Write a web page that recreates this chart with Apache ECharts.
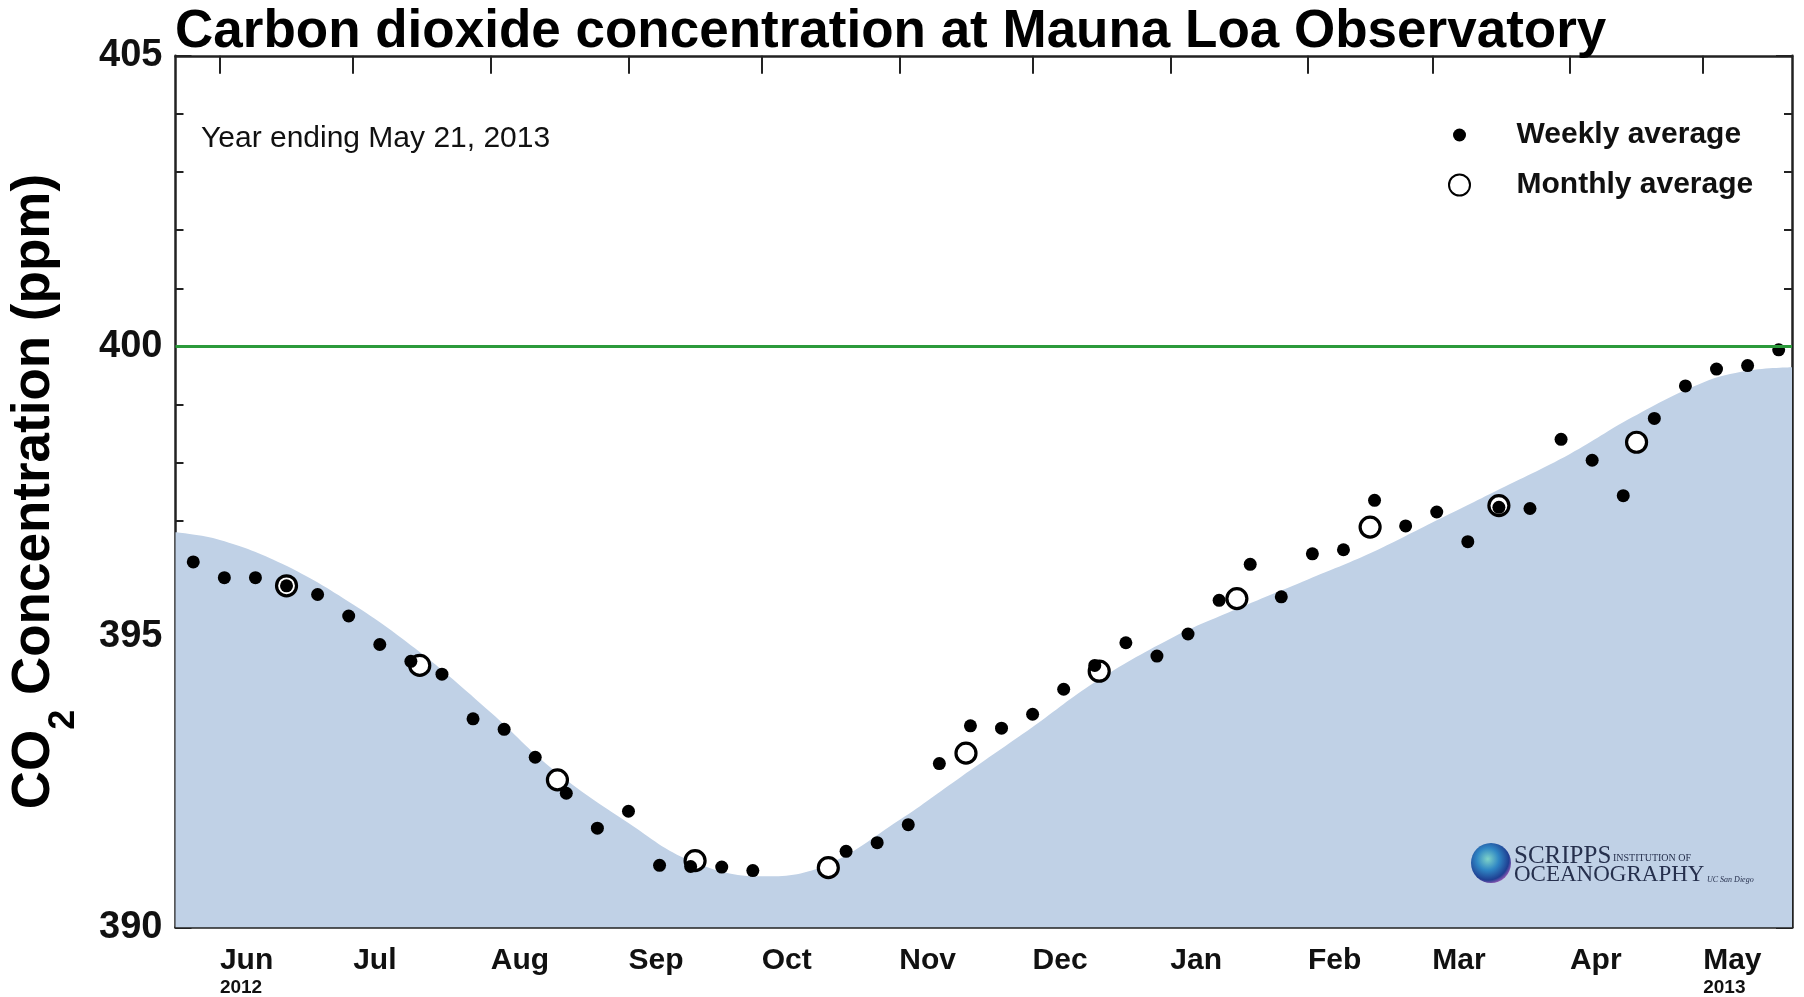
<!DOCTYPE html>
<html>
<head>
<meta charset="utf-8">
<script src="https://cdn.jsdelivr.net/npm/echarts@6/dist/echarts.min.js"></script>
<style>
html,body{margin:0;padding:0;background:#fff;}
#c{width:1804px;height:997px;}
</style>
</head>
<body>
<div id="c"></div>
<script>
// ---------- data ----------
const monthTicks = ['2012-06-01','2012-07-01','2012-08-01','2012-09-01','2012-10-01','2012-11-01',
                    '2012-12-01','2013-01-01','2013-02-01','2013-03-01','2013-04-01','2013-05-01'];
const monthLabels = ['Jun','Jul','Aug','Sep','Oct','Nov','Dec','Jan','Feb','Mar','Apr','May'];
const yearLabels  = ['2012','','','','','','','','','','','2013'];

const weeklyDates = ['2012-05-26','2012-06-02','2012-06-09','2012-06-16','2012-06-23','2012-06-30',
  '2012-07-07','2012-07-14','2012-07-21','2012-07-28','2012-08-04','2012-08-11','2012-08-18','2012-08-25',
  '2012-09-01','2012-09-08','2012-09-15','2012-09-22','2012-09-29','2012-10-20','2012-10-27',
  '2012-11-03','2012-11-10','2012-11-17','2012-11-24','2012-12-01','2012-12-08','2012-12-15','2012-12-22',
  '2012-12-29','2013-01-05','2013-01-12','2013-01-19','2013-01-26','2013-02-02','2013-02-09','2013-02-16',
  '2013-02-23','2013-03-02','2013-03-09','2013-03-16','2013-03-23','2013-03-30','2013-04-06','2013-04-13',
  '2013-04-20','2013-04-27','2013-05-04','2013-05-11','2013-05-18'];
const weeklyValues = [396.29,396.02,396.02,395.88,395.73,395.36,
  394.87,394.58,394.36,393.59,393.41,392.93,392.31,391.71,
  392.00,391.07,391.05,391.04,390.98,391.31,391.46,
  391.77,392.82,393.47,393.43,393.67,394.10,394.51,394.90,
  394.67,395.05,395.63,396.25,395.69,396.43,396.50,397.35,
  396.91,397.15,396.64,397.23,397.21,398.40,398.04,397.43,
  398.76,399.32,399.61,399.67,399.94];

const monthlyDates = ['2012-06-16','2012-07-16','2012-08-16','2012-09-16','2012-10-16','2012-11-16',
  '2012-12-16','2013-01-16','2013-02-15','2013-03-16','2013-04-16'];
const monthlyValues = [395.88,394.51,392.54,391.15,391.03,393.00,394.41,395.66,396.89,397.26,398.35];

const curveDates = ['2012-05-22','2012-06-01','2012-06-15','2012-07-01','2012-07-15','2012-08-01',
  '2012-08-15','2012-09-01','2012-09-15','2012-10-01','2012-10-15','2012-11-01','2012-11-15',
  '2012-12-01','2012-12-15','2013-01-01','2013-01-15','2013-02-01','2013-02-15','2013-03-01',
  '2013-03-15','2013-04-01','2013-04-15','2013-05-01','2013-05-11','2013-05-21'];
const curveValues = [396.80,396.67,396.26,395.56,394.80,393.70,
  392.72,391.80,391.15,390.88,391.06,391.85,392.60,
  393.45,394.22,394.97,395.45,395.99,396.44,396.97,
  397.50,398.15,398.78,399.38,399.58,399.64];

const refLevel = 400;
const xStart = '2012-05-22', xEnd = '2013-05-21';
const yMin = 390, yMax = 405, yStep = 5;

// ---------- helpers ----------
function ts(s){ const p = s.split('-').map(Number); return new Date(p[0], p[1]-1, p[2]).getTime(); }
const tickTs = monthTicks.map(ts);
const labelByTs = new Map(tickTs.map((t,i)=>[t,
  yearLabels[i] ? '{m|' + monthLabels[i] + '}\n{y|' + yearLabels[i] + '}' : '{m|' + monthLabels[i] + '}']));

const FONT = '"Liberation Sans", Arial, Helvetica, sans-serif';
const SERIF = '"Liberation Serif", "Times New Roman", serif';
const axisLine = {show:true, onZero:false, lineStyle:{color:'#222', width:2.5}};
const tickStyle = {color:'#222', width:2};

const chart = echarts.init(document.getElementById('c'), null, {renderer:'canvas', width:1804, height:997});

const option = {
  animation:false,
  backgroundColor:'#ffffff',
  textStyle:{fontFamily:FONT},
  title:{
    text:'Carbon dioxide concentration at Mauna Loa Observatory',
    left:175, top:6, padding:0,
    textStyle:{fontFamily:FONT, fontSize:53, fontWeight:'bold', color:'#000', lineHeight:53}
  },
  grid:{left:174, right:12, top:55.8, bottom:67.4, containLabel:false},
  xAxis:[
    {type:'value', position:'bottom', min:ts(xStart), max:ts(xEnd), scale:true,
     axisLine:axisLine,
     axisTick:{show:true, inside:true, length:18, customValues:tickTs, lineStyle:tickStyle},
     axisLabel:{show:true, customValues:tickTs, align:'left', margin:17,
       formatter:function(v){ return labelByTs.get(v) || ''; },
       rich:{
         m:{fontFamily:FONT, fontSize:30, fontWeight:'bold', color:'#111', lineHeight:32},
         y:{fontFamily:FONT, fontSize:19, fontWeight:'bold', color:'#111', lineHeight:22}
       }},
     splitLine:{show:false}},
    {type:'value', position:'top', min:ts(xStart), max:ts(xEnd), scale:true,
     axisLine:axisLine,
     axisTick:{show:true, inside:true, length:18, customValues:tickTs, lineStyle:tickStyle},
     axisLabel:{show:false},
     splitLine:{show:false}}
  ],
  yAxis:[
    {type:'value', position:'left', min:yMin, max:yMax, interval:yStep,
     name:'{a|CO}{b|2}{a| Concentration (ppm)}',
     nameLocation:'middle', nameRotate:90, nameGap:93,
     nameTextStyle:{rich:{
       a:{fontFamily:FONT, fontSize:53, fontWeight:'bold', color:'#000', lineHeight:96},
       b:{fontFamily:FONT, fontSize:36, fontWeight:'bold', color:'#000', lineHeight:36, verticalAlign:'bottom'}
     }},
     axisLine:axisLine,
     axisTick:{show:true, inside:true, length:16, lineStyle:tickStyle},
     minorTick:{show:true, splitNumber:5, length:8, lineStyle:tickStyle},
     axisLabel:{fontFamily:FONT, fontSize:38, fontWeight:'bold', color:'#111', margin:13},
     splitLine:{show:false}},
    {type:'value', position:'right', min:yMin, max:yMax, interval:yStep,
     axisLine:axisLine,
     axisTick:{show:true, inside:true, length:16, lineStyle:tickStyle},
     minorTick:{show:true, splitNumber:5, length:8, lineStyle:tickStyle},
     axisLabel:{show:false},
     splitLine:{show:false}}
  ],
  legend:[
    {data:['Weekly average'], orient:'vertical', left:1453, top:120, padding:0,
     itemWidth:104, itemHeight:13, selectedMode:false,
     textStyle:{fontFamily:FONT, fontSize:30, fontWeight:'bold', color:'#111'}},
    {data:['Monthly average'], orient:'vertical', left:1448, top:170, padding:0,
     itemWidth:104, itemHeight:21, selectedMode:false,
     textStyle:{fontFamily:FONT, fontSize:30, fontWeight:'bold', color:'#111'}}
  ],
  series:[
    {type:'line', name:'Seasonal curve', xAxisIndex:0, yAxisIndex:0,
     data:curveDates.map((d,i)=>[ts(d), curveValues[i]]),
     smooth:0.4, symbol:'none', silent:true, z:1,
     lineStyle:{width:0, color:'#c0d1e6'},
     areaStyle:{color:'#c0d1e6', opacity:1, origin:'start'},
     markLine:{silent:true, symbol:['none','none'], label:{show:false},
       lineStyle:{color:'#2b9a3b', width:3, type:'solid'},
       data:[{yAxis:refLevel}]}},
    {type:'scatter', name:'Monthly average', xAxisIndex:0, yAxisIndex:0,
     data:monthlyDates.map((d,i)=>[ts(d), monthlyValues[i]]),
     symbol:'circle', symbolSize:20, z:3,
     itemStyle:{color:'#ffffff', borderColor:'#000', borderWidth:3.2, opacity:1}},
    {type:'scatter', name:'Weekly average', xAxisIndex:0, yAxisIndex:0,
     data:weeklyDates.map((d,i)=>[ts(d), weeklyValues[i]]),
     symbol:'circle', symbolSize:13, z:4,
     itemStyle:{color:'#000', opacity:1}}
  ],
  graphic:[
    {type:'text', x:201, y:138.5, z:10, silent:true,
     style:{text:'Year ending May 21, 2013', fontFamily:FONT, fontSize:30, fill:'#111',
            textAlign:'left', textVerticalAlign:'middle'}},
    {type:'circle', shape:{cx:1491, cy:863, r:20}, z:10, silent:true,
     style:{fill:new echarts.graphic.RadialGradient(0.42,0.4,0.62,[
       {offset:0,color:'#7fd3c8'},{offset:0.45,color:'#2f86c4'},{offset:0.85,color:'#1f3f92'},{offset:1,color:'#8a55b0'}])}},
    {type:'text', x:1514, y:856.6, z:10, silent:true,
     style:{text:'SCRIPPS', fontFamily:SERIF, fontSize:25, fill:'#26304d', textAlign:'left', textVerticalAlign:'middle'}},
    {type:'text', x:1613, y:858.6, z:10, silent:true,
     style:{text:'INSTITUTION OF', fontFamily:SERIF, fontSize:10, fill:'#26304d', textAlign:'left', textVerticalAlign:'middle'}},
    {type:'text', x:1514, y:875, z:10, silent:true,
     style:{text:'OCEANOGRAPHY', fontFamily:SERIF, fontSize:23, fill:'#26304d', textAlign:'left', textVerticalAlign:'middle'}},
    {type:'text', x:1707, y:880, z:10, silent:true,
     style:{text:'UC San Diego', fontFamily:SERIF, fontSize:8, fontStyle:'italic', fill:'#26304d', textAlign:'left', textVerticalAlign:'middle'}}
  ]
};
chart.setOption(option);
</script>
</body>
</html>
